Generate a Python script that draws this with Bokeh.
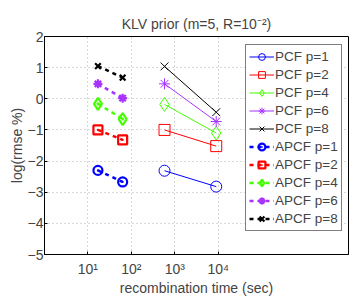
from bokeh.plotting import figure
from bokeh.models import FixedTicker, CustomJSTickFormatter, Legend, LegendItem, Range1d
from bokeh.embed import file_html
from bokeh.resources import INLINE

# data
p_values = ["1", "2", "4", "6", "8"]
colors = ["#0000ff", "#ff0000", "#44ff00", "#a833ff", "#000000"]
pcf_time = [580, 9000]
apcf_time = [17, 63]
pcf_rmse = {
    "1": [-2.31, -2.82],
    "2": [-1.0, -1.52],
    "4": [-0.18, -1.1],
    "6": [0.48, -0.73],
    "8": [1.04, -0.43],
}
apcf_rmse = {
    "1": [-2.3, -2.67],
    "2": [-1.0, -1.32],
    "4": [-0.16, -0.65],
    "6": [0.48, 0.02],
    "8": [1.05, 0.68],
}
x_ticks = [10, 100, 1000, 10000]
y_ticks = [-5, -4, -3, -2, -1, 0, 1, 2]

FONT = "Liberation Sans"

p = figure(x_axis_type="log",
           x_range=Range1d(1, 1e7), y_range=Range1d(-5, 2),
           output_backend="svg", toolbar_location=None,
           min_border_left=44, min_border_top=36, min_border_right=2,
           min_border_bottom=40)
p.frame_width = 304
p.frame_height = 218

p.title.text = "KLV prior (m=5, R=10\u207b\u00b2)"
p.title.align = "center"
p.title.text_font = FONT
p.title.text_font_style = "normal"
p.title.text_font_size = "14px"

p.outline_line_color = "black"
p.outline_line_width = 1

for ax in (p.xaxis[0], p.yaxis[0]):
    ax.major_label_text_font = FONT
    ax.major_label_text_font_size = "14px"
    ax.axis_label_text_font = FONT
    ax.axis_label_text_font_size = "14px"
    ax.axis_label_text_font_style = "normal"
    ax.major_tick_out = 0
    ax.major_tick_in = 3
    ax.minor_tick_out = 0
    ax.minor_tick_in = 0
    ax.axis_line_color = "black"

p.xaxis.ticker = FixedTicker(ticks=x_ticks, minor_ticks=[])
p.xaxis.formatter = CustomJSTickFormatter(code="""
const sup = {"0":"\u2070","1":"\u00b9","2":"\u00b2","3":"\u00b3","4":"\u2074","5":"\u2075","6":"\u2076","7":"\u2077","8":"\u2078","9":"\u2079"};
const e = String(Math.round(Math.log10(tick)));
return "10" + e.split("").map(c => sup[c]).join("");
""")
p.yaxis.ticker = FixedTicker(ticks=y_ticks, minor_ticks=[])
p.yaxis.formatter = CustomJSTickFormatter(code="return String(tick).replace('-', '\u2212');")
p.xaxis.axis_label = "recombination time (sec)"
p.yaxis.axis_label = "log(rmse %)"
p.xaxis.axis_label_standoff = 0
p.yaxis.axis_label_standoff = 0
p.xaxis.major_label_standoff = 6
p.yaxis.major_label_standoff = 1

p.grid.grid_line_color = "#b0b0b0"
p.grid.grid_line_dash = "1 3"
p.grid.grid_line_width = 1

pcf_markers = ["circle", "square", "diamond", "asterisk", "x"]
apcf_markers = ["circle_dot", "square_dot", "diamond_dot", "asterisk", "x"]
pcf_sizes = [11, 11, 14, 11, 11]
apcf_sizes = [9, 9, 12, 9, 8]

items = []
for i, k in enumerate(p_values):
    c = colors[i]
    r1 = p.line(pcf_time, pcf_rmse[k], line_color=c, line_width=1)
    r2 = p.scatter(pcf_time, pcf_rmse[k], marker=pcf_markers[i], size=pcf_sizes[i],
                   line_color=c, fill_color=None, line_width=1)
    items.append(LegendItem(label="PCF p=" + k, renderers=[r1, r2]))
for i, k in enumerate(p_values):
    c = colors[i]
    r1 = p.line(apcf_time, apcf_rmse[k], line_color=c, line_width=2.5, line_dash="4 4")
    r2 = p.scatter(apcf_time, apcf_rmse[k], marker=apcf_markers[i], size=apcf_sizes[i],
                   line_color=c, fill_color=None, line_width=2.2)
    items.append(LegendItem(label="APCF p=" + k, renderers=[r1, r2]))

legend = Legend(items=items, location=(201, 23))
legend.label_text_font = FONT
legend.label_text_font_size = "13.5px"
legend.label_height = 17
legend.glyph_height = 17
legend.glyph_width = 25
legend.spacing = 1
legend.padding = 3
legend.margin = 0
legend.label_standoff = 1
legend.border_line_color = "black"
legend.border_line_width = 1
legend.background_fill_alpha = 1
p.add_layout(legend, "center")

open("out.html", "w").write(file_html(p, INLINE))
